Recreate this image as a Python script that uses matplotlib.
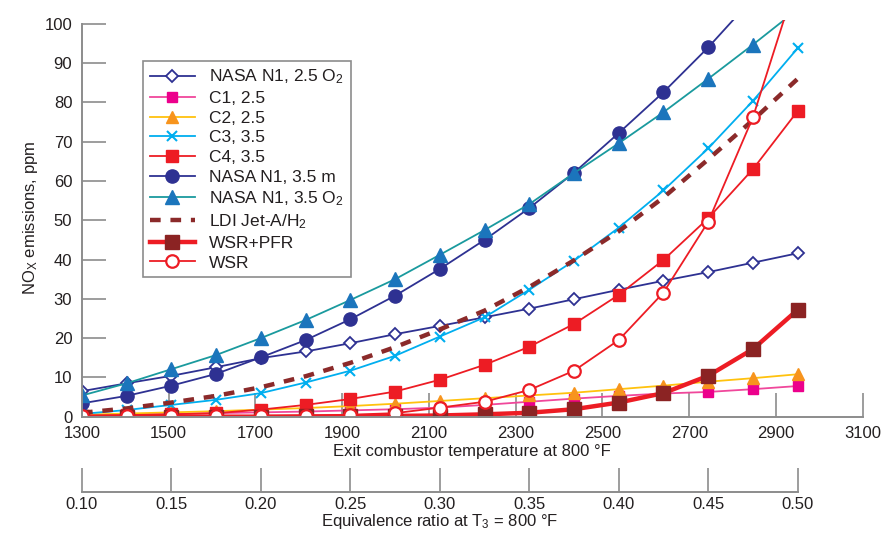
import matplotlib
matplotlib.use('Agg')
import matplotlib.pyplot as plt

plt.rcParams['font.family'] = ['Liberation Sans', 'DejaVu Sans']
plt.rcParams['mathtext.fontset'] = 'custom'
plt.rcParams['mathtext.rm'] = 'Liberation Sans'
plt.rcParams['mathtext.it'] = 'Liberation Sans:italic'

# equivalence ratio of each test point
phi = [0.100, 0.125, 0.150, 0.175, 0.200, 0.225, 0.250, 0.275, 0.300,
       0.325, 0.350, 0.375, 0.400, 0.425, 0.450, 0.475, 0.500]

# NOx, ppm
nasa_25_o2 = [6.5, 8.5, 10.4, 12.6, 14.9, 16.6, 18.7, 21.0, 23.1,
              25.3, 27.5, 29.9, 32.3, 34.6, 36.8, 39.2, 41.6]
c1 = [0.3, 0.5, 0.7, 0.9, 1.1, 1.3, 1.6, 1.9, 2.3,
      3.0, 3.8, 4.6, 5.3, 5.9, 6.3, 7.0, 7.8]
c2 = [0.5, 0.8, 1.1, 1.4, 1.8, 2.2, 2.7, 3.3, 4.0,
      4.7, 5.4, 6.1, 7.0, 7.9, 8.9, 9.8, 10.8]
c3 = [0.7, 1.7, 3.0, 4.3, 6.0, 8.7, 11.7, 15.5, 20.4,
      25.3, 32.3, 39.7, 48.1, 57.6, 68.3, 80.4, 93.8]
c4 = [0.2, 0.4, 0.6, 0.9, 1.8, 3.0, 4.5, 6.4, 9.4,
      13.2, 17.8, 23.6, 31.0, 39.9, 50.5, 63.0, 77.8]
nasa_35_m = [3.4, 5.3, 7.9, 10.9, 15.1, 19.5, 24.8, 30.8, 37.6,
             45.0, 53.1, 62.1, 72.2, 82.6, 94.0, 106.5, 120.0]
nasa_35_o2 = [5.4, 8.5, 12.1, 15.7, 20.0, 24.6, 29.7, 35.0, 41.2,
              47.5, 54.1, 62.0, 69.6, 77.5, 86.0, 94.7, 103.7]
ldi = [1.0, 2.1, 3.6, 5.3, 7.5, 10.3, 13.7, 17.7, 22.2,
       27.0, 33.0, 39.8, 47.2, 55.8, 65.5, 75.5, 86.0]
wsr_pfr = [0.0, 0.0, 0.0, 0.0, 0.0, 0.05, 0.1, 0.2, 0.3,
           0.6, 1.0, 1.9, 3.6, 6.0, 10.4, 17.2, 27.2]
wsr = [0.1, 0.1, 0.1, 0.15, 0.2, 0.3, 0.5, 0.9, 2.3,
       3.8, 6.8, 11.7, 19.5, 31.6, 49.6, 76.2, 112.0]

temp_ticks = [1300, 1500, 1700, 1900, 2100, 2300, 2500, 2700, 2900, 3100]
phi_ticks = [0.10, 0.15, 0.20, 0.25, 0.30, 0.35, 0.40, 0.45, 0.50]


def t2phi(t):
    # exit temperature (deg F) -> equivalence ratio, T3 = 800 F
    return 0.1 + (t - 1300) / 4125.0


navy = '#2e3192'
red = '#ed1c24'
gray = '#8c8c8c'
txt = '#231f20'

fig = plt.figure(figsize=(8.87, 5.34), dpi=100)
ax = fig.add_axes([82 / 887, 0.2197, 780.7 / 887, 0.743])

ax.plot(phi, nasa_25_o2, color=navy, lw=1.3, marker='D', ms=6.5,
        mfc='white', mec=navy, mew=1.3, label='NASA N1, 2.5 O$_\\mathrm{2}$')
ax.plot(phi, c1, color='#f0479b', lw=1.3, marker='s', ms=7,
        mfc='#ec008c', mec='#ec008c', label='C1, 2.5')
ax.plot(phi, c2, color='#ffc20e', lw=1.3, marker='^', ms=8,
        mfc='#f7941d', mec='#f7941d', label='C2, 2.5')
ax.plot(phi, c3, color='#00aeef', lw=1.3, marker='x', ms=7.5,
        mew=1.5, mec='#00aeef', label='C3, 3.5')
ax.plot(phi, c4, color=red, lw=1.3, marker='s', ms=9,
        mfc=red, mec=red, label='C4, 3.5')
ax.plot(phi, nasa_35_m, color=navy, lw=1.3, marker='o', ms=9.5,
        mfc=navy, mec=navy, label='NASA N1, 3.5 m')
ax.plot(phi, nasa_35_o2, color='#1a9a9e', lw=1.3, marker='^', ms=10,
        mfc='#1b75bc', mec='#1b75bc', label='NASA N1, 3.5 O$_\\mathrm{2}$')
ldi_line, = ax.plot(phi, ldi, color='#8b2a2a', lw=3.2,
                    label='LDI Jet-A/H$_\\mathrm{2}$')
ldi_line.set_dashes((2.4, 2.2))
ax.plot(phi, wsr_pfr, color=red, lw=3.2, marker='s', ms=10,
        mfc='#8b2323', mec='#8b2323', label='WSR+PFR')
ax.plot(phi, wsr, color=red, lw=1.3, marker='o', ms=9,
        mfc='white', mec=red, mew=1.6, label='WSR')

ax.set_xlim(t2phi(1300), t2phi(3100))
ax.set_ylim(0, 101)
ax.set_xticks([t2phi(t) for t in temp_ticks], labels=[str(t) for t in temp_ticks])
ax.set_yticks(range(0, 101, 10))
for side in ['top', 'right']:
    ax.spines[side].set_visible(False)
ax.spines['left'].set_bounds(0, 100)
for side in ['left', 'bottom']:
    ax.spines[side].set_color(gray)
    ax.spines[side].set_linewidth(1.4)
ax.tick_params(axis='both', direction='in', length=17, width=1.2, color=gray,
               labelsize=12, labelcolor=txt)
ax.tick_params(axis='x', pad=7)
ax.tick_params(axis='y', pad=7)
ax.set_xlabel('Exit combustor temperature at 800 °F', fontsize=12, color=txt, labelpad=2)
ax.set_ylabel('NO$_\\mathrm{X}$ emissions, ppm', fontsize=12, color=txt, labelpad=3)

leg = ax.legend(loc='upper left', bbox_to_anchor=(0.078, 0.897), borderaxespad=0,
                fontsize=12.5, handlelength=2.6, labelspacing=0.26, borderpad=0.4,
                handletextpad=0.8, fancybox=False, framealpha=1)
leg.get_frame().set_edgecolor(gray)
leg.get_frame().set_linewidth(1.2)
for t in leg.get_texts():
    t.set_color(txt)

# second scale: equivalence ratio
ax2 = fig.add_axes([82 / 887, 0.0792, 780.7 / 887, 0.0001])
ax2.set_xlim(ax.get_xlim())
ax2.set_yticks([])
for side in ['top', 'right', 'left']:
    ax2.spines[side].set_visible(False)
ax2.spines['bottom'].set_bounds(0.10, 0.50)
ax2.spines['bottom'].set_color(gray)
ax2.spines['bottom'].set_linewidth(1.4)
ax2.set_xticks(phi_ticks, labels=['%.2f' % p for p in phi_ticks])
ax2.tick_params(axis='x', direction='in', length=17, width=1.2, color=gray,
                labelsize=12, labelcolor=txt, pad=4)
ax2.set_xlabel('Equivalence ratio at T$_\\mathrm{3}$ = 800 °F', fontsize=12,
               color=txt, labelpad=0)
# centre the label under the 0.10-0.50 span
ax2.xaxis.label.set_x((0.30 - ax.get_xlim()[0]) / (ax.get_xlim()[1] - ax.get_xlim()[0]))
ax2.patch.set_visible(False)

fig.savefig('out.png', dpi=100)
